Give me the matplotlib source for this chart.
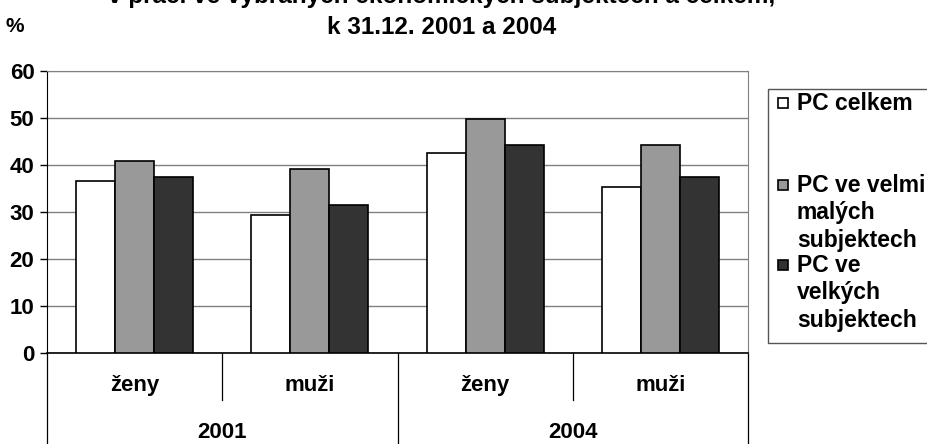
import numpy as np
import matplotlib.pyplot as plt
import matplotlib.patches as mpatches
import matplotlib.transforms as mtransforms

plt.rcParams['font.family'] = ['Liberation Sans', 'DejaVu Sans']
plt.rcParams['font.weight'] = 'bold'

# data
categories = ['ženy', 'muži', 'ženy', 'muži']
years = ['2001', '2004']
series_names = ['PC celkem', 'PC ve velmi\nmalých\nsubjektech', 'PC ve\nvelkých\nsubjektech']
pc_celkem = [36.5, 29.4, 42.5, 35.3]
pc_male = [40.9, 39.1, 49.7, 44.3]
pc_velke = [37.4, 31.4, 44.3, 37.4]
colors = ['#ffffff', '#999999', '#333333']

W, H = 927, 444
fig = plt.figure(figsize=(W / 100, H / 100), dpi=100)


def fx(px):
    return px / W


def fy(py):
    return 1 - py / H


left, right, top, bottom = 47, 748, 71, 353
ax = fig.add_axes([fx(left), fy(bottom), fx(right - left), (bottom - top) / H])

x = np.arange(len(categories))
w = 0.223
for i, (vals, c) in enumerate(zip([pc_celkem, pc_male, pc_velke], colors)):
    ax.bar(x + (i - 1) * w, vals, w, color=c, edgecolor='black', linewidth=1.2, zorder=3)

ax.set_xlim(-0.5, len(categories) - 0.5)
ax.set_ylim(0, 60)
ax.set_yticks(np.arange(0, 61, 10))
ax.set_xticks([])
ax.yaxis.grid(True, color='#808080', linewidth=1.0, zorder=0)
ax.tick_params(axis='y', direction='out', length=5, width=1, labelsize=16, pad=4)
for lab in ax.get_yticklabels():
    lab.set_fontweight('bold')
ax.spines['left'].set_color('black')
ax.spines['bottom'].set_color('black')
ax.spines['bottom'].set_linewidth(1.2)
ax.spines['top'].set_color('#808080')
ax.spines['right'].set_color('#808080')

# two-level category axis below the plot
trans = mtransforms.blended_transform_factory(ax.transData, ax.transAxes)
short = -(400 - bottom) / (bottom - top)
long_ = -(H + 5 - bottom) / (bottom - top)
for xv in [-0.5, 1.5, 3.5]:
    ax.plot([xv, xv], [0, long_], transform=trans, color='black', lw=0.9, clip_on=False)
for xv in [0.5, 2.5]:
    ax.plot([xv, xv], [0, short], transform=trans, color='black', lw=0.9, clip_on=False)
for xi, cat in zip(x, categories):
    ax.text(xi, -(385 - bottom) / (bottom - top), cat, transform=trans,
            ha='center', va='center', fontsize=16, fontweight='bold')
for k, yr in enumerate(years):
    ax.text(0.5 + 2 * k, -(432 - bottom) / (bottom - top), yr, transform=trans,
            ha='center', va='center', fontsize=16, fontweight='bold')

# title (first line cut by the top edge, as in the reference) and unit
fig.text(fx(442), fy(-4), 'v práci ve vybraných ekonomických subjektech a celkem,',
         ha='center', va='center', fontsize=17.5, fontweight='bold')
fig.text(fx(442), fy(27), 'k 31.12. 2001 a 2004',
         ha='center', va='center', fontsize=17.5, fontweight='bold')
fig.text(fx(15), fy(26), '%', ha='center', va='center', fontsize=15, fontweight='bold')

# legend drawn by hand
fig.patches.append(mpatches.Rectangle((fx(768), fy(343)), fx(200), (343 - 89) / H,
                                      transform=fig.transFigure, facecolor='white',
                                      edgecolor='#555555', lw=1.0))
entry_y = [103, 185, 265]
for name, c, ey in zip(series_names, colors, entry_y):
    fig.patches.append(mpatches.Rectangle((fx(778), fy(ey + 5)), fx(10), 10 / H,
                                          transform=fig.transFigure, facecolor=c,
                                          edgecolor='black', lw=1.2))
    for j, line in enumerate(name.split('\n')):
        fig.text(fx(797), fy(ey + 27.5 * j), line, ha='left', va='center',
                 fontsize=16.5, fontweight='bold')

fig.savefig('out.png', dpi=100)
